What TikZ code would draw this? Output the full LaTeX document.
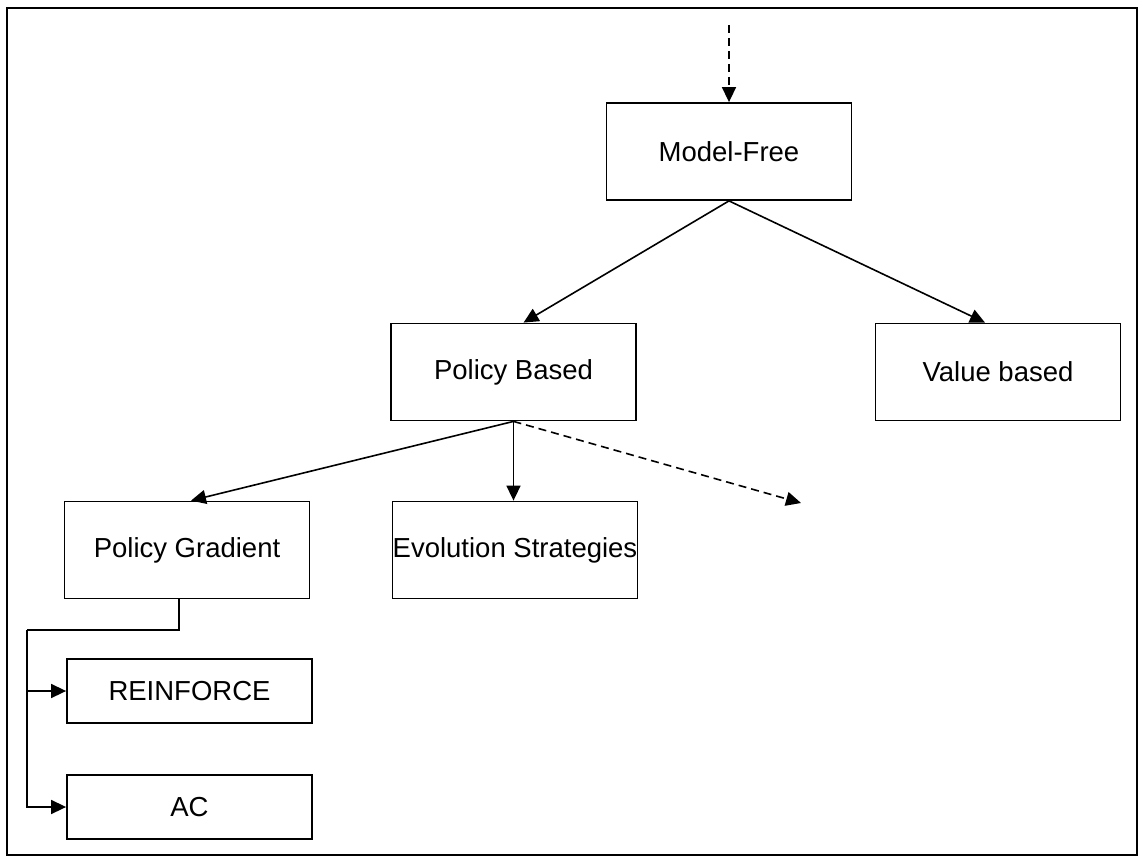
\documentclass[tikz,border=0pt]{standalone}
\usepackage{fontspec}
\setmainfont{Liberation Sans}
\usetikzlibrary{arrows.meta}
\begin{document}
\begin{tikzpicture}[x=1pt,y=-1pt,
  box/.style={draw,line width=1.8pt,minimum width=245pt,inner sep=0pt,font=\fontsize{27.5}{32}\selectfont},
  tall/.style={box,minimum height=97pt},
  short/.style={box,minimum height=64pt},
  conn/.style={line width=1.6pt,-{Triangle[length=15pt,width=14pt]}},
  dconn/.style={conn,dash pattern=on 8pt off 5pt}]
\useasboundingbox (0,0) rectangle (1143,861);
\draw[line width=2.4pt] (7,8) rectangle (1137,855);
\node[tall] (MF) at (729,151.5) {Model-Free};
\node[tall] (PB) at (513.5,372) {Policy Based};
\node[tall] (VB) at (998,372) {Value based};
\node[tall] (PG) at (187,550) {Policy Gradient};
\node[tall] (ES) at (515,550) {Evolution Strategies};
\node[short] (RE) at (189.5,691) {REINFORCE};
\node[short] (AC) at (189.5,807) {AC};
\coordinate (top) at (729,25);
\coordinate (more) at (801,503);
\coordinate (bus) at (27,630);
\draw[dconn] (top) -- (MF.north);
\draw[conn] (MF.south) -- ([xshift=10pt]PB.north);
\draw[conn] (MF.south) -- ([xshift=-13pt]VB.north);
\draw[conn] (PB.south) -- ([xshift=4pt]PG.north);
\draw[conn] (PB.south) -- (PB.south |- ES.north);
\draw[dconn] (PB.south) -- (more);
\draw[line width=1.6pt] ([xshift=-8pt]PG.south) |- (bus);
\draw[conn] (bus) |- (RE.west);
\draw[conn] (bus) |- (AC.west);
\end{tikzpicture}
\end{document}
